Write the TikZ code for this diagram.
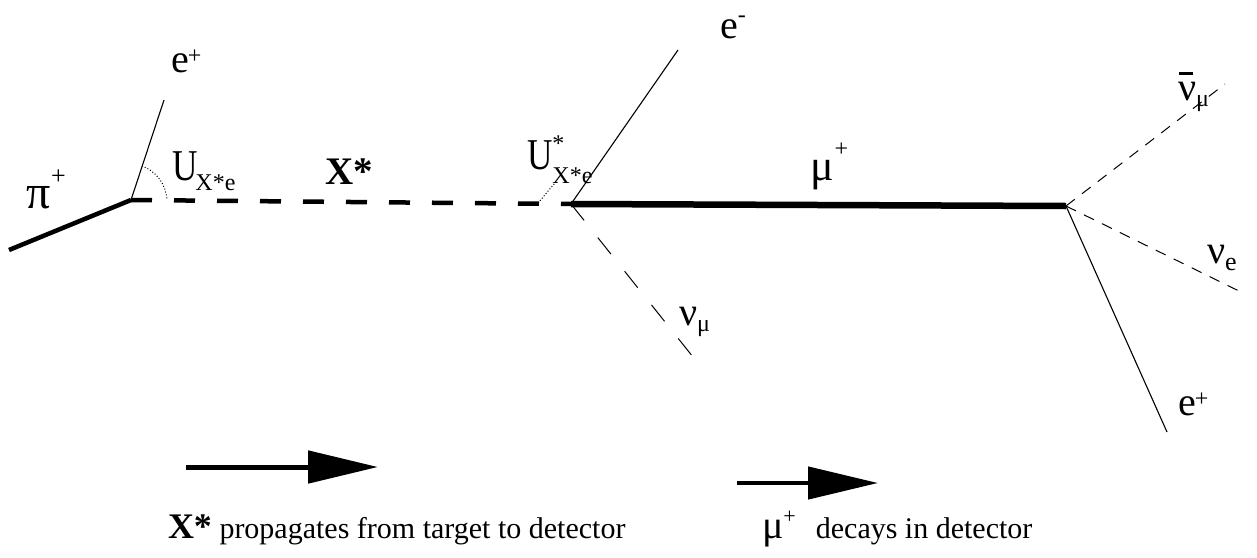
\documentclass[tikz,border=0pt]{standalone}
\usepackage{fontspec}
\usepackage{graphicx}
\setmainfont{Liberation Serif}
\usetikzlibrary{arrows.meta}
\newcommand{\sz}[1]{\fontsize{#1}{#1}\selectfont}
\newcommand{\narrowU}{\scalebox{0.8}[1]{U}}
\begin{document}
\begin{tikzpicture}[x=1pt,y=-1pt,
  lbl/.style={anchor=base west, inner sep=0pt, outer sep=0pt},
  heavy/.style={line width=4.5pt},
  muline/.style={line width=6.5pt},
  xdash/.style={line width=4.5pt, dash pattern=on 21pt off 22pt},
  fineline/.style={line width=1.1pt},
  nudashlong/.style={line width=1pt, dash pattern=on 21pt off 22pt},
  nudash/.style={line width=1pt, dash pattern=on 11pt off 9pt},
  angdot/.style={line width=1pt, dotted},
  bigarrow/.style={line width=5pt, -{Triangle[length=70pt,width=32pt]}}
]
\useasboundingbox (0,0) rectangle (1257,557);
% vertices and free ends
\coordinate (v1) at (131,200);
\coordinate (v2) at (571,204);
\coordinate (v3) at (1066,206);
\coordinate (piS) at (9,250);
\coordinate (eAend) at (164,100);
\coordinate (eBend) at (678,50);
\coordinate (numuEnd) at (693,357);
\coordinate (nubarEnd) at (1225,84);
\coordinate (nueEnd) at (1243,293);
\coordinate (eCend) at (1167,432);
\coordinate (a1s) at (186,467);
\coordinate (a1e) at (378,467);
\coordinate (a2s) at (737,483);
\coordinate (a2e) at (878,483);

% lines
\draw[heavy] (piS) -- (v1);
\draw[fineline] (v1) -- (eAend);
\draw[xdash] (v1) -- (v2);
\draw[fineline] (v2) -- (eBend);
\draw[nudashlong] (v2) -- (numuEnd);
\draw[muline] (v2) -- (v3);
\draw[nudash] (v3) -- (nubarEnd);
\draw[nudash] (v3) -- (nueEnd);
\draw[fineline] (v3) -- (eCend);
% angle markers
\draw[angdot] (142,166) .. controls (156,171) and (166,184) .. (167,200);
\draw[angdot] (538,203) .. controls (546,194) and (551,187) .. (557,181);

% labels
\node[lbl] (lpi) at (27,208) {\sz{48}π\raisebox{24pt}{\sz{26}+}};
\node[lbl] (leA) at (171,72) {\sz{40}e\kern-1pt\raisebox{9pt}{\sz{24}+}};
\node[lbl] (lU1) at (172,180) {\sz{44}\narrowU\kern-2pt\raisebox{-10pt}{\sz{24}X*e}};
\node[lbl] (lX) at (325,184) {\sz{39}\bfseries X*};
\node[lbl] (lU2) at (527,169) {\sz{44}\narrowU\rlap{\raisebox{18pt}{\sz{24}*}}\raisebox{-14pt}{\sz{24}X*e}};
\node[lbl] (leB) at (720,38) {\sz{40}e\raisebox{16pt}{\sz{24}-}};
\node[lbl] (lmu) at (810,180) {\sz{44}μ\kern1pt\raisebox{24pt}{\sz{24}+}};
\node[lbl] (lnumu) at (679,325) {\sz{40}ν\raisebox{-6pt}{\sz{24}μ}};
\node[lbl] (lnubar) at (1178,100) {\sz{40}\rlap{\kern1pt\raisebox{25pt}{\rule{14pt}{3.5pt}}}ν\raisebox{-6pt}{\sz{24}μ}};
\node[lbl] (lnue) at (1207,263) {\sz{40}ν\raisebox{-7pt}{\sz{26}e}};
\node[lbl] (leC) at (1178,415) {\sz{40}e\kern-1pt\raisebox{9pt}{\sz{24}+}};

% legend
\draw[bigarrow] (a1s) -- (a1e);
\draw[bigarrow, line width=4.5pt] (a2s) -- (a2e);
\node[lbl] (t1) at (168,538) {{\sz{36}\bfseries X*}{\sz{30} propagates from target to detector}};
\node[lbl] (t2) at (762,538) {{\sz{40}μ\raisebox{15pt}{\sz{22}+}}\hspace{20pt}{\sz{30}decays in detector}};
\end{tikzpicture}
\end{document}
